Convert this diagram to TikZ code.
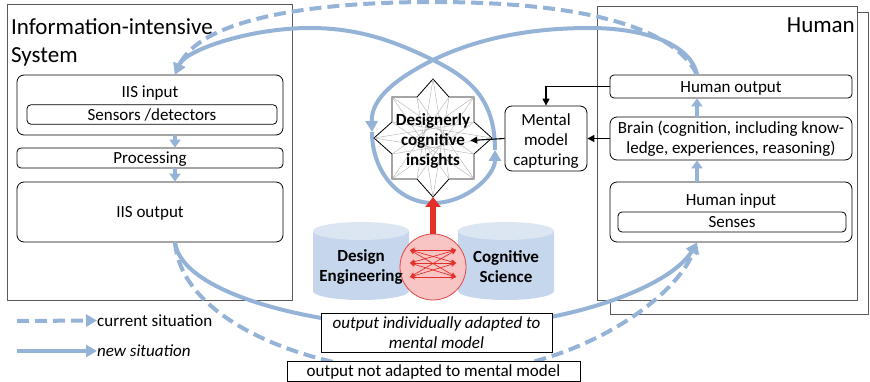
\documentclass[tikz,border=0pt]{standalone}
\usepackage{fontspec}
\setmainfont{Carlito}
\usetikzlibrary{arrows.meta}
\newcommand\myfs{\fontsize{17}{20}\selectfont}
\newcommand\mybig{\fontsize{23}{28}\selectfont}
\definecolor{bl}{RGB}{149,179,215}
\definecolor{frame}{RGB}{89,89,89}
\definecolor{cylb}{RGB}{198,214,236}
\definecolor{cylt}{RGB}{220,230,242}
\definecolor{rd}{RGB}{228,48,40}
\definecolor{rdfill}{RGB}{248,196,196}
\definecolor{rdline}{RGB}{226,70,70}
\begin{document}
\begin{tikzpicture}[x=1pt,y=-1pt,
 every node/.style={inner sep=0pt, font=\myfs},
 bigbox/.style={draw=frame, line width=1pt, fill=white},
 rbox/.style={draw=black, line width=0.8pt, rounded corners=7pt, fill=white},
 rsbox/.style={draw=black, line width=0.8pt, rounded corners=4pt, fill=white},
 sbox/.style={draw=black, line width=0.8pt, fill=white},
 tx/.style={text height=15.5pt, text depth=4pt},
 newline/.style={draw=bl, line width=4pt},
 oldline/.style={draw=bl, line width=4pt, dash pattern=on 12pt off 6pt},
 btip/.style={-{Triangle[length=11pt,width=12pt]}},
 stip/.style={-{Triangle[length=8pt,width=11pt]}},
 kline/.style={draw=black, line width=1.1pt, -{Triangle[length=7pt,width=7pt]}},
 rdarr/.style={draw=rd, line width=0.7pt, {Stealth[length=5pt,width=5pt]}-{Stealth[length=5pt,width=5pt]}},
]
\useasboundingbox (0,0) rectangle (870,382);

% ---------- Information-intensive system ----------
\node[bigbox, minimum width=285pt, minimum height=295pt] (iis) at (150,152.5) {};
\node[font=\mybig, anchor=north west, align=left] (iist) at (11,18.5) {Information-intensive\\System};
\node[rbox, minimum width=266pt, minimum height=60pt] (iisin) at (150,105) {};
\node[tx] (iisinT) at (150,91.5) {IIS input};
\node[rsbox, tx, minimum width=250pt, minimum height=19pt] (sens) at (152,114.5) {Sensors /detectors};
\node[rsbox, tx, minimum width=266pt, minimum height=20pt] (proc) at (150,158) {Processing};
\node[rbox, tx, minimum width=266pt, minimum height=60pt] (iisout) at (150,212) {IIS output};

% ---------- Human ----------
\node[bigbox, minimum width=258pt, minimum height=301pt] (humB) at (739,163.5) {};
\node[bigbox, minimum width=260pt, minimum height=293pt] (hum) at (727,153.5) {};
\node[font=\mybig, anchor=base east] (humt) at (855,33) {Human};
\node[rsbox, tx, minimum width=242pt, minimum height=23pt] (ho) at (731,86.5) {Human output};
\node[rbox, align=center, minimum width=242pt, minimum height=43pt] (brain) at (731,138.5) {Brain (cognition, including know-\\ledge, experiences, reasoning)};
\node[rbox, minimum width=242pt, minimum height=60pt] (hi) at (731,212) {};
\node[tx] (hiT) at (731,199.5) {Human input};
\node[rsbox, tx, minimum width=228pt, minimum height=20pt] (sen2) at (732,222) {Senses};

% ---------- mental model ----------
\node[rbox, minimum width=82pt, minimum height=65pt] (mm) at (546,138.5) {};
\node[align=center] (mmT) at (546,141.5) {Mental\\model\\capturing};

\coordinate (xL) at (175,0);
\coordinate (xR) at (697,0);

% small blue arrows
\draw[newline, stip] (iisin.south -| xL) -- (proc.north -| xL);
\draw[newline, stip] (proc.south -| xL) -- (iisout.north -| xL);
\draw[newline, stip] (hi.north -| xR) -- (brain.south -| xR);
\draw[newline, stip] (brain.north -| xR) -- (ho.south -| xR);

% ---------- cylinders ----------
\fill[cylb] (313,231) -- (313,291) arc[start angle=180, end angle=360, x radius=48pt, y radius=9pt] -- (409,231) -- cycle;
\fill[cylt] (361,231) ellipse[x radius=48pt, y radius=9pt];
\fill[cylb] (458,231) -- (458,291) arc[start angle=180, end angle=360, x radius=48pt, y radius=9pt] -- (554,231) -- cycle;
\fill[cylt] (506,231) ellipse[x radius=48pt, y radius=9pt];

% ---------- blue loops ----------
\coordinate (cx) at (433,60);
\coordinate (cl) at (372,132);
\coordinate (cr) at (495,150);
\draw[oldline, btip] (ho.north -| xR) .. controls (670,20) and (560,2) .. (433,2) .. controls (306,2) and (200,20) .. (iisin.north -| xL);
\draw[newline, btip] (ho.north -| xR) .. controls (690,42) and (640,28) .. (590,28) .. controls (520,28) and (470,42) .. (cx) .. controls (397,78) and (371,98) .. (cl);
\draw[newline, btip] (cl) .. controls (372,172) and (399,203) .. (433,203) .. controls (467,203) and (495,175) .. (cr);
\draw[newline, btip] (cr) .. controls (495,98) and (469,78) .. (cx) .. controls (396,42) and (360,28) .. (310,28) .. controls (250,28) and (185,50) .. (iisin.north -| xL);

\draw[newline, btip] (iisout.south -| xL) .. controls (182,295) and (320,328) .. (436,328) .. controls (570,328) and (672,285) .. (hi.south -| xR);
\draw[oldline, btip] (iisout.south -| xL) .. controls (182,325) and (320,374) .. (436,374) .. controls (570,376) and (675,300) .. (hi.south -| xR);

% ---------- star ----------
\begin{scope}[shift={(433,138)}]
 \foreach \i/\p in {0/{0,-59},1/{16,-41},2/{41,-41},3/{41,-16},4/{59,0},5/{41,16},6/{41,41},7/{16,41},
                    8/{0,59},9/{-16,41},10/{-41,41},11/{-41,16},12/{-59,0},13/{-41,-16},14/{-41,-41},15/{-16,-41}}
   { \coordinate (s\i) at (\p); }
 \draw[fill=white, line width=0.8pt, line join=miter] (s0) \foreach \i in {1,...,15}{ -- (s\i) } -- cycle;
 \foreach \o/\a/\b in {0/7/9, 2/9/11, 4/11/13, 6/13/15, 8/15/1, 10/1/3, 12/3/5, 14/5/7}{
   \draw[gray!60, line width=0.4pt] (s\a) -- (s\o) -- (s\b);
 }
\end{scope}
\node[font=\myfs\bfseries, align=center] (ins) at (433,140.5) {Designerly\\cognitive\\insights};

% ---------- red mixing circle ----------
\node[circle, draw=rdline, fill=rdfill, line width=0.8pt, minimum size=66pt] (rc) at (433,267) {};
\draw[rd, line width=6pt, -{Triangle[length=10pt,width=15pt]}] (rc.north) -- (s8);
\coordinate (l1) at (410,250); \coordinate (l2) at (410,263); \coordinate (l3) at (410,277);
\coordinate (r1) at (456,250); \coordinate (r2) at (456,263); \coordinate (r3) at (456,277);
\foreach \a in {l1,l2,l3}{ \foreach \b in {r1,r2,r3}{ \draw[rdarr] (\a) -- (\b); } }

\node[font=\myfs\bfseries, align=center] (de) at (361,267) {Design\\Engineering};
\node[font=\myfs\bfseries, align=center] (cs) at (506,267) {Cognitive\\Science};

% ---------- black arrows ----------
\draw[kline] (ho.west) -| (mm.north);
\draw[kline] (brain.west) -- (mm.east);
\draw[kline] (mm.west) -- (ins.east);

% ---------- labels ----------
\node[sbox, align=center, font=\myfs\itshape, minimum width=231pt, minimum height=39pt] (lab1) at (436.5,332.5) {output individually adapted to\\mental model};
\node[sbox, tx, minimum width=293pt, minimum height=20pt] (lab2) at (433.5,371) {output not adapted to mental model};

% ---------- legend ----------
\coordinate (lgA) at (17,321);
\coordinate (lgB) at (17,351);
\node[tx, anchor=west] (lgT1) at (97,320.5) {current situation};
\node[tx, anchor=west, font=\myfs\itshape] (lgT2) at (97,351) {new situation};
\draw[oldline, btip] (lgA) -- (lgT1.west);
\draw[newline, btip] (lgB) -- (lgB -| lgT2.west);
\end{tikzpicture}
\end{document}
